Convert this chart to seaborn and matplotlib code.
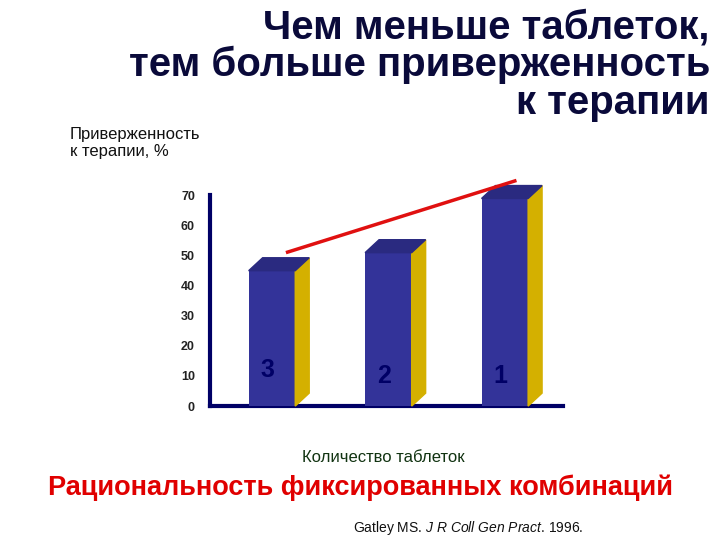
import numpy as np
import pandas as pd
import matplotlib.pyplot as plt
import seaborn as sns
from matplotlib.patches import Polygon

pills = ['3', '2', '1']
adherence = [45, 51, 69]

sns.set_style('white')
plt.rcParams['font.family'] = ['Liberation Sans', 'DejaVu Sans']
plt.rcParams['mathtext.fontset'] = 'custom'
plt.rcParams['mathtext.it'] = 'Liberation Sans:italic'
plt.rcParams['mathtext.rm'] = 'Liberation Sans'

navy = '#000066'
front = '#333399'
side = '#d4b000'
top = '#2a2a80'

df = pd.DataFrame({'pills': pills, 'adherence': adherence})

fig = plt.figure(figsize=(7.2, 5.4), dpi=100)
ax = fig.add_axes([0.292, 0.248, 0.49, 0.39])
sns.barplot(data=df, x='pills', y='adherence', color=front, saturation=1,
            width=0.4, ax=ax, zorder=3, edgecolor=front, linewidth=0)

# 3D faces
w, dx, dy = 0.2, 0.12, 4.3
for i, v in enumerate(adherence):
    ax.add_patch(Polygon([(i + w, 0), (i + w + dx, dy), (i + w + dx, v + dy), (i + w, v)],
                         closed=True, color=side, zorder=3, clip_on=False))
    ax.add_patch(Polygon([(i - w, v), (i - w + dx, v + dy), (i + w + dx, v + dy), (i + w, v)],
                         closed=True, color=top, zorder=3, clip_on=False))
    ax.text(i - 0.04, 10 + (2 if i == 0 else 0), pills[i], color=navy, fontsize=18,
            fontweight='bold', ha='center', va='center', zorder=4)

# trend line
ax.plot([0.12, 2.1], [adherence[0] + 6, adherence[2] + 6], color='#e01010',
        lw=2.5, zorder=5, clip_on=False, solid_capstyle='butt')

ax.set_xlim(-0.53, 2.5)
ax.set_ylim(0, 70)
ax.set_yticks(range(0, 71, 10))
ax.set_xticks([])
ax.set_xlabel('')
ax.set_ylabel('')
for s in ['top', 'right']:
    ax.spines[s].set_visible(False)
for s in ['left', 'bottom']:
    ax.spines[s].set_color(navy)
    ax.spines[s].set_linewidth(3)
ax.tick_params(axis='y', colors=navy, length=5, width=3, direction='out', labelsize=9, pad=6)
for t in ax.get_yticklabels():
    t.set_color('#222222')
    t.set_fontweight('bold')

fig.text(0.986, 0.985, 'Чем меньше таблеток,\nтем больше приверженность\nк терапии',
         ha='right', va='top', fontsize=29, fontweight='bold', color='#0a0a3a',
         linespacing=1.0)
fig.text(0.097, 0.735, 'Приверженность\nк терапии, %', ha='left', va='center',
         fontsize=12, color='#111111')
fig.text(0.532, 0.153, 'Количество таблеток', ha='center', va='center',
         fontsize=12, color='#113311')
fig.text(0.5, 0.097, 'Рациональность фиксированных комбинаций', ha='center',
         va='center', fontsize=19.5, fontweight='bold', color='#e00000')
fig.text(0.49, 0.022, r'Gatley MS. $\it{J\ R\ Coll\ Gen\ Pract}$. 1996.', ha='left',
         va='center', fontsize=10, color='#111111')

fig.savefig('out.png', dpi=100)
